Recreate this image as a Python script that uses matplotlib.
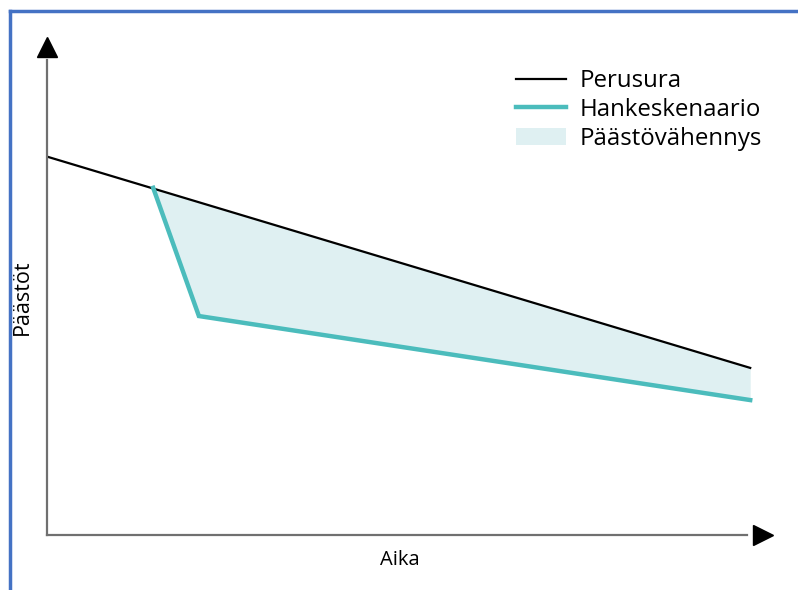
import numpy as np
import matplotlib.pyplot as plt
from matplotlib.lines import Line2D

plt.rcParams['font.family'] = ['Open Sans', 'DejaVu Sans']

# data (schematic units: time 0..100, emissions 0..100)
base_x = [0, 100]
base_y = [78.8, 34.8]
hanke_x = [15.1, 21.6, 100]
hanke_y = [72.3, 45.6, 28.1]
labels = ['Perusura', 'Hankeskenaario', 'Päästövähennys']

teal = '#4bbcbc'
fill_col = '#dff0f2'

fig = plt.figure(figsize=(7.98, 5.90), dpi=100)
ax = fig.add_axes([47 / 798, (590 - 535) / 590, (772 - 47) / 798, (535 - 38) / 590])
ax.set_xlim(0, 103.1)
ax.set_ylim(0, 103.5)

base_at_hanke = np.interp(hanke_x, base_x, base_y)
ax.fill_between(hanke_x, hanke_y, base_at_hanke, color=fill_col, lw=0, label=labels[2])
ax.plot(base_x, base_y, color='black', lw=1.6, label=labels[0])
ax.plot(hanke_x, hanke_y, color=teal, lw=3.2, solid_joinstyle='miter', label=labels[1])

# axes as arrows
for s in ['top', 'right']:
    ax.spines[s].set_visible(False)
ax.spines['left'].set_bounds(0, 99)
ax.spines['bottom'].set_bounds(0, 99.5)
for s in ['left', 'bottom']:
    ax.spines[s].set_color('#707070')
    ax.spines[s].set_linewidth(1.6)
ax.plot([0], [0.982], marker='^', ms=15, color='black', transform=ax.transAxes, clip_on=False)
ax.plot([0.988], [0], marker='>', ms=15, color='black', transform=ax.transAxes, clip_on=False)
ax.set_xticks([])
ax.set_yticks([])

fig.text(400 / 798, 1 - 560 / 590, 'Aika', ha='center', va='center', fontsize=14.5)
fig.text(22 / 798, 1 - 297 / 590, 'Päästöt', ha='center', va='center', rotation=90, fontsize=15.5)

h, l = ax.get_legend_handles_labels()
order = [1, 2, 0]
ax.legend([h[i] for i in order], [l[i] for i in order], loc='upper left',
          bbox_to_anchor=(504 / 798, 1 - 57 / 590), bbox_transform=fig.transFigure,
          frameon=False, fontsize=17.3, handlelength=2.1, handletextpad=0.55,
          labelspacing=0.2, borderpad=0)

# blue frame on top and left
fig.add_artist(Line2D([9.5 / 798, 1], [1 - 11 / 590, 1 - 11 / 590], color='#4472c4', lw=2.5))
fig.add_artist(Line2D([9.5 / 798, 9.5 / 798], [0, 1 - 11 / 590], color='#4472c4', lw=2.5))

fig.savefig('out.png', dpi=100)
